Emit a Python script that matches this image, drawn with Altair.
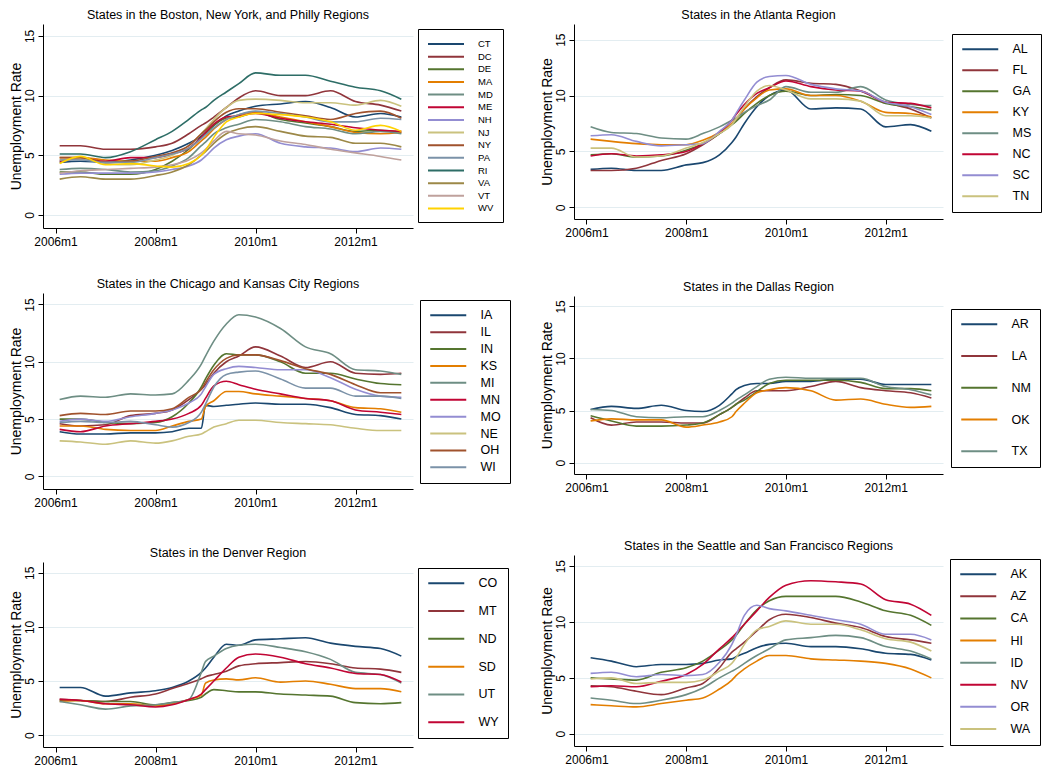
import altair as alt
import pandas as pd

# month index: 0 = 2006m1
MONTHS = [1, 6, 12, 18, 24, 28, 32, 35, 36, 38, 41, 44, 48, 54, 60, 66, 72, 78, 83]
TICK_MONTHS = [0, 24, 48, 72]
Y_TICKS = [0, 5, 10, 15]

# Stata s2color palette
PALETTE = ["#1a476f", "#90353b", "#55752f", "#e37e00", "#6e8e84", "#c10534", "#938dd2",
           "#cac27e", "#a0522d", "#7b92a8", "#2d6d66", "#9c8847", "#bfa19c", "#ffd200"]

# ---- Boston, New York, Philly
CT = [4.4, 4.5, 4.4, 4.6, 5.0, 5.4, 6.0, 6.6, 6.9, 7.5, 8.3, 8.7, 9.1, 9.3, 9.5, 9.0, 8.2, 8.5, 8.2]
DC = [5.8, 5.8, 5.5, 5.5, 5.7, 6.0, 6.8, 7.5, 7.7, 8.2, 9.0, 9.8, 10.4, 10.0, 10.0, 10.4, 9.5, 9.2, 8.7]
DE = [3.6, 3.6, 3.4, 3.4, 3.8, 4.5, 5.5, 6.5, 6.8, 7.5, 8.1, 8.2, 8.6, 8.0, 7.7, 7.4, 7.0, 7.1, 6.9]
MA = [4.8, 4.8, 4.6, 4.5, 4.5, 4.8, 5.3, 6.2, 6.5, 7.2, 8.0, 8.4, 8.6, 8.2, 7.8, 7.4, 6.9, 6.8, 6.9]
MD = [3.8, 3.9, 3.8, 3.6, 3.7, 4.1, 4.8, 5.8, 6.1, 6.8, 7.3, 7.6, 8.0, 7.8, 7.4, 7.2, 6.8, 7.0, 6.8]
ME = [4.5, 4.7, 4.5, 4.8, 4.8, 5.1, 5.6, 6.5, 6.9, 7.6, 8.2, 8.3, 8.5, 8.1, 7.8, 7.6, 7.3, 7.1, 7.0]
NH = [3.4, 3.5, 3.5, 3.5, 3.6, 3.8, 4.1, 4.6, 4.9, 5.6, 6.3, 6.6, 6.8, 6.0, 5.7, 5.6, 5.3, 5.6, 5.5]
NJ = [4.6, 4.7, 4.3, 4.2, 4.6, 5.0, 5.8, 6.8, 7.2, 8.0, 9.0, 9.6, 9.7, 9.6, 9.4, 9.4, 9.2, 9.6, 9.1]
NY = [4.8, 4.8, 4.4, 4.5, 4.9, 5.2, 5.8, 6.8, 7.1, 7.8, 8.6, 8.9, 8.9, 8.6, 8.3, 8.0, 8.5, 8.7, 8.1]
PA = [4.6, 4.6, 4.4, 4.4, 4.8, 5.1, 5.6, 6.4, 6.7, 7.3, 8.0, 8.4, 8.7, 8.5, 8.2, 7.8, 7.8, 8.1, 8.0]
RI = [5.1, 5.1, 4.8, 5.3, 6.3, 7.0, 8.0, 8.8, 9.0, 9.6, 10.3, 11.0, 11.9, 11.7, 11.7, 11.2, 10.7, 10.4, 9.7]
VA = [3.0, 3.2, 3.0, 3.0, 3.3, 3.6, 4.2, 5.0, 5.3, 6.0, 6.8, 7.2, 7.4, 7.0, 6.6, 6.5, 6.0, 6.0, 5.7]
VT = [3.5, 3.7, 3.8, 3.9, 4.0, 4.2, 4.6, 5.2, 5.5, 6.2, 7.0, 6.8, 6.7, 6.2, 5.9, 5.5, 5.2, 4.9, 4.6]
WV = [4.3, 4.9, 4.2, 4.3, 4.1, 4.0, 4.3, 5.0, 5.4, 6.5, 7.8, 8.2, 8.5, 8.4, 8.2, 7.8, 7.1, 7.5, 7.0]

# ---- Atlanta
AL = [3.4, 3.5, 3.3, 3.3, 3.8, 4.0, 4.7, 5.8, 6.3, 7.5, 9.0, 10.0, 10.5, 8.8, 8.9, 8.8, 7.2, 7.4, 6.8]
FL = [3.3, 3.3, 3.5, 4.2, 4.8, 5.6, 6.6, 7.5, 7.9, 8.8, 9.9, 10.7, 11.4, 11.1, 11.0, 10.4, 9.4, 8.8, 8.0]
GA = [4.7, 4.8, 4.5, 4.6, 5.1, 5.7, 6.6, 7.4, 7.7, 8.4, 9.3, 10.0, 10.4, 10.0, 10.1, 10.0, 9.3, 9.0, 8.7]
KY = [6.1, 5.9, 5.7, 5.6, 5.6, 6.0, 6.7, 7.5, 7.9, 8.8, 9.8, 10.5, 10.6, 10.0, 10.0, 9.5, 8.5, 8.4, 8.1]
MS = [7.2, 6.7, 6.6, 6.2, 6.1, 6.6, 7.2, 7.8, 8.0, 8.5, 9.1, 9.6, 10.8, 10.3, 10.3, 10.8, 9.6, 9.2, 9.1]
NC = [4.6, 4.8, 4.6, 4.7, 5.0, 5.7, 6.7, 7.8, 8.3, 9.2, 10.2, 10.7, 11.3, 10.8, 10.5, 10.4, 9.4, 9.3, 8.9]
SC = [6.4, 6.5, 5.9, 5.5, 5.6, 5.7, 6.8, 7.8, 8.4, 9.6, 11.2, 11.7, 11.8, 11.0, 10.6, 10.4, 9.4, 9.0, 8.3]
TN = [5.3, 5.3, 4.5, 4.6, 5.3, 5.8, 6.6, 7.4, 7.9, 9.0, 10.4, 10.9, 10.5, 9.7, 9.7, 9.5, 8.2, 8.2, 8.0]

# ---- Chicago and Kansas City
IA = [3.9, 3.7, 3.7, 3.8, 3.8, 3.9, 4.2, 4.2, 6.2, 6.1, 6.2, 6.3, 6.4, 6.3, 6.3, 6.0, 5.4, 5.3, 5.0]
IL = [4.6, 4.4, 4.5, 5.3, 5.5, 5.8, 6.7, 7.6, 8.0, 9.0, 10.0, 10.5, 11.3, 10.5, 9.5, 10.0, 9.0, 8.9, 9.0]
IN = [5.0, 5.0, 4.7, 4.6, 4.7, 5.2, 6.4, 7.8, 8.5, 9.7, 10.7, 10.6, 10.6, 10.0, 9.0, 9.0, 8.5, 8.1, 8.0]
KS = [4.4, 4.4, 4.1, 4.0, 4.0, 4.4, 4.8, 5.0, 6.1, 6.6, 7.4, 7.4, 7.2, 7.0, 6.8, 6.6, 6.0, 5.9, 5.6]
MI = [6.7, 7.0, 6.9, 7.2, 7.1, 7.2, 8.4, 9.8, 10.5, 11.8, 13.3, 14.1, 13.9, 12.9, 11.3, 10.7, 9.3, 9.2, 8.9]
MN = [4.1, 3.9, 4.4, 4.6, 4.8, 5.0, 5.5, 6.2, 6.8, 7.9, 8.3, 8.0, 7.6, 7.2, 6.8, 6.6, 5.8, 5.6, 5.4]
MO = [4.8, 5.0, 4.8, 5.2, 5.5, 5.8, 6.4, 7.2, 7.8, 8.9, 9.4, 9.6, 9.5, 9.3, 9.3, 8.6, 7.6, 7.0, 6.9]
NE = [3.1, 3.0, 2.8, 3.1, 2.9, 3.1, 3.5, 3.7, 3.9, 4.3, 4.6, 4.9, 4.9, 4.7, 4.6, 4.5, 4.2, 4.0, 4.0]
OH = [5.3, 5.5, 5.4, 5.7, 5.7, 5.9, 6.9, 7.6, 8.2, 9.3, 10.3, 10.6, 10.6, 10.1, 9.4, 8.9, 8.0, 7.3, 7.3]
WI = [4.7, 4.8, 4.7, 4.8, 4.5, 4.3, 4.7, 5.6, 6.3, 7.8, 8.9, 9.1, 9.2, 8.5, 7.7, 7.7, 7.0, 7.0, 6.8]

# ---- Dallas
AR = [5.1, 5.4, 5.2, 5.5, 5.0, 4.9, 5.5, 6.6, 7.0, 7.4, 7.6, 7.6, 7.8, 7.8, 8.0, 8.0, 7.5, 7.5, 7.5]
LA = [4.3, 3.6, 3.9, 3.9, 3.8, 3.8, 4.6, 5.3, 5.6, 6.2, 6.9, 6.9, 6.9, 7.3, 7.8, 7.2, 6.9, 6.7, 6.2]
NM = [4.5, 4.0, 3.5, 3.5, 3.6, 3.8, 4.6, 5.3, 5.6, 6.0, 6.8, 7.6, 7.9, 7.9, 7.9, 7.7, 7.1, 7.1, 6.9]
OK = [4.0, 4.2, 4.1, 4.1, 3.4, 3.6, 3.9, 4.4, 4.9, 5.7, 6.7, 7.0, 7.2, 6.9, 6.0, 6.1, 5.6, 5.3, 5.4]
TX = [5.1, 5.0, 4.4, 4.3, 4.4, 4.4, 5.0, 5.7, 6.0, 6.5, 7.3, 8.0, 8.2, 8.1, 8.1, 8.1, 7.3, 7.0, 6.5]

# ---- Denver
CO = [4.4, 4.4, 3.6, 3.9, 4.1, 4.4, 5.0, 5.8, 6.2, 7.2, 8.4, 8.3, 8.8, 8.9, 9.0, 8.5, 8.2, 8.0, 7.3]
MT = [3.3, 3.2, 3.1, 3.5, 3.8, 4.3, 4.8, 5.2, 5.4, 5.6, 5.9, 6.4, 6.6, 6.7, 6.8, 6.6, 6.2, 6.1, 5.8]
ND = [3.2, 3.2, 3.1, 3.1, 2.8, 3.0, 3.2, 3.5, 3.8, 4.2, 4.1, 4.0, 4.0, 3.8, 3.7, 3.6, 3.0, 2.9, 3.0]
SD = [3.1, 3.2, 2.9, 2.9, 2.7, 2.9, 3.3, 3.7, 4.8, 5.1, 5.2, 5.1, 5.3, 4.9, 5.0, 4.7, 4.3, 4.3, 4.0]
UT = [3.1, 2.8, 2.4, 2.7, 2.8, 3.0, 3.3, 5.8, 6.8, 7.3, 8.0, 8.3, 8.4, 8.1, 7.7, 7.0, 5.8, 5.6, 4.8]
WY = [3.3, 3.2, 2.9, 2.8, 2.6, 2.8, 3.3, 3.8, 4.2, 5.0, 6.2, 7.2, 7.5, 7.2, 6.6, 6.2, 5.7, 5.6, 4.9]

# ---- Seattle and San Francisco
AK = [6.8, 6.5, 6.0, 6.2, 6.2, 6.3, 6.6, 6.7, 6.9, 7.2, 7.7, 8.0, 8.1, 7.8, 7.8, 7.6, 7.2, 7.1, 6.6]
AZ = [4.3, 4.2, 3.8, 3.5, 4.1, 4.5, 5.9, 7.3, 7.6, 8.2, 9.2, 10.2, 10.7, 10.4, 9.9, 9.5, 8.7, 8.4, 8.1]
CA = [5.0, 4.9, 4.8, 5.5, 5.9, 6.5, 7.5, 8.4, 8.8, 9.8, 11.1, 11.9, 12.3, 12.3, 12.3, 11.8, 11.0, 10.6, 9.7]
HI = [2.6, 2.5, 2.4, 2.7, 3.0, 3.2, 4.0, 4.8, 5.2, 5.8, 6.5, 7.0, 7.0, 6.7, 6.6, 6.5, 6.3, 5.8, 5.0]
ID = [3.2, 3.0, 2.7, 3.0, 3.5, 4.1, 5.0, 5.6, 5.8, 6.3, 7.0, 7.6, 8.4, 8.6, 8.8, 8.6, 7.8, 7.4, 6.7]
NV = [4.2, 4.3, 4.2, 4.7, 5.3, 6.2, 7.6, 8.6, 9.0, 9.8, 11.0, 12.2, 13.3, 13.7, 13.6, 13.4, 12.0, 11.6, 10.6]
OR = [5.4, 5.5, 5.1, 5.3, 5.2, 5.3, 6.4, 8.0, 8.8, 10.6, 11.5, 11.2, 11.0, 10.6, 10.2, 9.8, 8.9, 8.9, 8.4]
WA = [4.9, 5.0, 4.5, 4.6, 4.6, 4.8, 5.6, 6.3, 6.8, 8.0, 9.3, 9.6, 10.1, 9.8, 9.8, 9.3, 8.5, 8.2, 7.4]

FONT = "Liberation Sans"


def panel(title, states, series, w, h, lx, ly, label_size, row_pad, ydom=(-1.1, 16)):
    rows = []
    for s, vals in zip(states, series):
        for m, v in zip(MONTHS, vals):
            rows.append({"state": s, "m": m, "rate": v})
    df = pd.DataFrame(rows)
    return alt.Chart(df).mark_line(strokeWidth=1.6, interpolate="monotone").encode(
        x=alt.X("m:Q",
                scale=alt.Scale(domain=[-3, 85.8], nice=False, zero=False),
                axis=alt.Axis(values=TICK_MONTHS, title=None, grid=False,
                              labelExpr="(2006 + round(datum.value / 12)) + 'm1'",
                              labelFontSize=12, tickSize=5, labelPadding=3)),
        y=alt.Y("rate:Q",
                scale=alt.Scale(domain=list(ydom), nice=False, zero=False),
                axis=alt.Axis(values=Y_TICKS, title="Unemployment Rate", grid=True,
                              labelAngle=270, labelAlign="center", labelBaseline="bottom",
                              labelFontSize=12, tickSize=5, labelPadding=2,
                              titleFontSize=14, titlePadding=0)),
        color=alt.Color("state:N",
                        scale=alt.Scale(domain=states, range=PALETTE[:len(states)]),
                        legend=alt.Legend(title=None, orient="none", legendX=lx, legendY=ly,
                                          symbolType="M-3.6,0H3.6", symbolSize=100,
                                          symbolStrokeWidth=2, symbolOffset=13,
                                          labelOffset=26, labelFontSize=label_size,
                                          labelFont=FONT, labelColor="#000",
                                          rowPadding=row_pad, padding=9,
                                          strokeColor="#000", fillColor="#ffffff")),
    ).properties(width=w, height=h,
                 title=alt.TitleParams(title, fontSize=12.5, fontWeight="normal", font=FONT,
                                       color="#000", offset=3, frame="group",
                                       anchor="middle"))


p_bos = panel("States in the Boston, New York, and Philly Regions",
              ["CT", "DC", "DE", "MA", "MD", "ME", "NH", "NJ", "NY", "PA", "RI", "VA", "VT", "WV"],
              [CT, DC, DE, MA, MD, ME, NH, NJ, NY, PA, RI, VA, VT, WV],
              370, 204, 375, 5, 9.5, 1.65)
p_chi = panel("States in the Chicago and Kansas City Regions",
              ["IA", "IL", "IN", "KS", "MI", "MN", "MO", "NE", "OH", "WI"],
              [IA, IL, IN, KS, MI, MN, MO, NE, OH, WI],
              370, 196, 377, 7, 12.5, 3.9)
p_den = panel("States in the Denver Region",
              ["CO", "MT", "ND", "SD", "UT", "WY"],
              [CO, MT, ND, SD, UT, WY],
              370, 185, 375, 6, 12.5, 14.8)
p_atl = panel("States in the Atlanta Region",
              ["AL", "FL", "GA", "KY", "MS", "NC", "SC", "TN"],
              [AL, FL, GA, KY, MS, NC, SC, TN],
              369, 195, 378, 10, 12.5, 8.0, ydom=(-1.04, 16.4))
p_dal = panel("States in the Dallas Region",
              ["AR", "LA", "NM", "OK", "TX"],
              [AR, LA, NM, OK, TX],
              369, 178, 377, 13, 12.5, 18.75)
p_sea = panel("States in the Seattle and San Francisco Regions",
              ["AK", "AZ", "CA", "HI", "ID", "NV", "OR", "WA"],
              [AK, AZ, CA, HI, ID, NV, OR, WA],
              369, 191, 376, 4, 12.5, 9.1)

left = alt.vconcat(
    alt.vconcat(p_bos, p_chi, spacing=30).resolve_scale(color="independent"),
    p_den, spacing=38).resolve_scale(color="independent")
right = alt.vconcat(
    alt.vconcat(p_atl, p_dal, spacing=42).resolve_scale(color="independent"),
    p_sea, spacing=46).resolve_scale(color="independent")

chart = alt.hconcat(left, right, spacing=28).resolve_scale(color="independent").properties(
    padding=0, background="#ffffff"
).configure_view(stroke=None).configure_axis(
    domainColor="#000", domainWidth=1, tickColor="#000", tickWidth=1,
    labelColor="#000", labelFont=FONT, titleFont=FONT, titleColor="#000",
    titleFontWeight="normal", gridColor="#e3edf1", gridWidth=1
)

chart.save("out.html", embed_options={"renderer": "svg", "actions": False})
